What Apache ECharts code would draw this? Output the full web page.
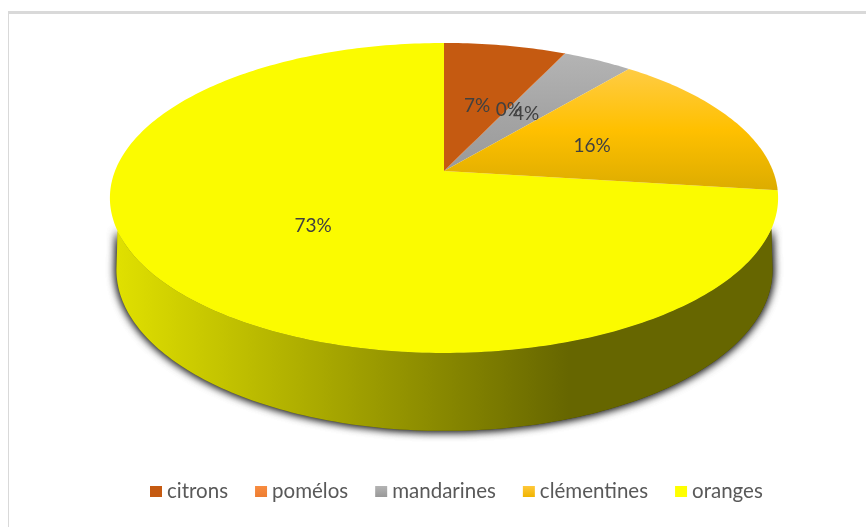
<!DOCTYPE html>
<html>
<head>
<meta charset="utf-8">
<style>html,body{margin:0;padding:0;background:#fff}#c{width:866px;height:527px}</style>
<script src="https://cdn.jsdelivr.net/npm/echarts@6/dist/echarts.min.js"></script>
</head>
<body>
<div id="c"></div>
<script>
// Fruit shares, in percent, going clockwise from twelve o'clock
const categories = ['citrons', 'pomélos', 'mandarines', 'clémentines', 'oranges'];
const shares = [7, 0, 4, 16, 73];

const chart = echarts.init(document.getElementById('c'), null, { renderer: 'canvas' });
const grad = (dir, stops) => new echarts.graphic.LinearGradient(
  0, 0, dir === 'h' ? 1 : 0, dir === 'h' ? 0 : 1,
  stops.map(s => ({ offset: s[0], color: s[1] }))
);

const faceFills = [
  '#c55a11',
  grad('v', [[0, '#f88c40'], [1, '#ed7d31']]),
  grad('v', [[0, '#b4b4b4'], [0.5, '#a5a5a5'], [1, '#9a9a9a']]),
  grad('v', [[0, '#ffcc44'], [0.5, '#ffc000'], [1, '#dcac00']]),
  '#fbfb00'
];
const legendFills = [
  '#c55a11',
  grad('v', [[0, '#f88c40'], [1, '#ed7d31']]),
  grad('v', [[0, '#b4b4b4'], [1, '#989898']]),
  grad('v', [[0, '#ffc83a'], [1, '#f0b400']]),
  '#ffff00'
];
const wallFill = grad('h', [[0, '#e0e000'], [0.69, '#666600'], [1, '#666600']]);

// Perspective view of the disc: the far edge is foreshortened
const TILT = 0.174;
function project(frac, radius, view) {
  const a = frac * Math.PI * 2;
  const u = Math.sin(a) * radius, v = Math.cos(a) * radius;
  const w = 1 + TILT * v;
  return [view.cx + view.a * u / w, view.cy - view.b * v / w];
}
const TOP = { cx: 444, cy: 171, a: 329, b: 150.3 };
const BASE = { cx: 444.5, cy: 242, a: 323, b: 156 };

function arc(from, to, view) {
  const pts = [];
  const n = Math.max(1, Math.ceil(Math.abs(to - from) * 360));
  for (let i = 0; i <= n; i++) pts.push(project(from + (to - from) * i / n, 1, view));
  return pts;
}

const startOf = i => shares.slice(0, i).reduce((s, x) => s + x, 0) / 100;

function renderSlice(i) {
  return function (params, api) {
    const share = api.value(0);
    const start = startOf(i), end = start + share / 100;
    const children = [];
    if (categories[i] === 'oranges') {
      // Outer wall of the disc, seen along the front half only; the shadow is
      // laid down twice so that it stays dark right up to the wall's edge
      const base = arc(0.7225, 0.2775, BASE);
      const minX = base[0][0], maxX = base[base.length - 1][0];
      const rim = arc(start, end, TOP).filter(p => p[0] > minX && p[0] < maxX && p[1] > TOP.cy);
      const wall = rim.concat(base);
      for (let k = 0; k < 2; k++) {
        children.push({
          type: 'polygon',
          shape: { points: wall },
          style: { fill: wallFill, shadowBlur: 10, shadowColor: 'rgba(20,20,20,0.95)' }
        });
      }
    }
    const pts = [[TOP.cx, TOP.cy]].concat(arc(start, end, TOP));
    children.push({
      type: 'polygon',
      shape: { points: pts },
      style: share === 0
        ? { fill: 'none', stroke: '#ed7d31', lineWidth: 0.8 }
        : { fill: faceFills[i] }
    });
    const lp = project((start + end) / 2, 0.5, TOP);
    children.push({
      type: 'text',
      z2: 100,
      style: {
        text: share + '%', x: lp[0], y: lp[1] + 2,
        align: 'center', verticalAlign: 'middle',
        font: '19px Lato', fill: '#404040'
      }
    });
    return { type: 'group', children };
  };
}

chart.setOption({
  animation: false,
  backgroundColor: '#ffffff',
  legend: {
    data: categories,
    left: 145, top: 476,
    icon: 'rect',
    itemWidth: 12, itemHeight: 11, itemGap: 27,
    textStyle: { fontFamily: 'Lato', fontSize: 20.5, color: '#595959' }
  },
  graphic: [
    { type: 'rect', silent: true, shape: { x: 8, y: 11, width: 858, height: 3 }, style: { fill: '#d9d9d9' } },
    { type: 'rect', silent: true, shape: { x: 8, y: 11, width: 1, height: 516 }, style: { fill: '#d9d9d9' } }
  ],
  series: categories.map((name, i) => ({
    type: 'custom',
    name,
    coordinateSystem: 'none',
    z: name === 'oranges' ? 1 : 2,
    itemStyle: { color: legendFills[i] },
    data: [[shares[i]]],
    renderItem: renderSlice(i)
  }))
});
</script>
</body>
</html>
